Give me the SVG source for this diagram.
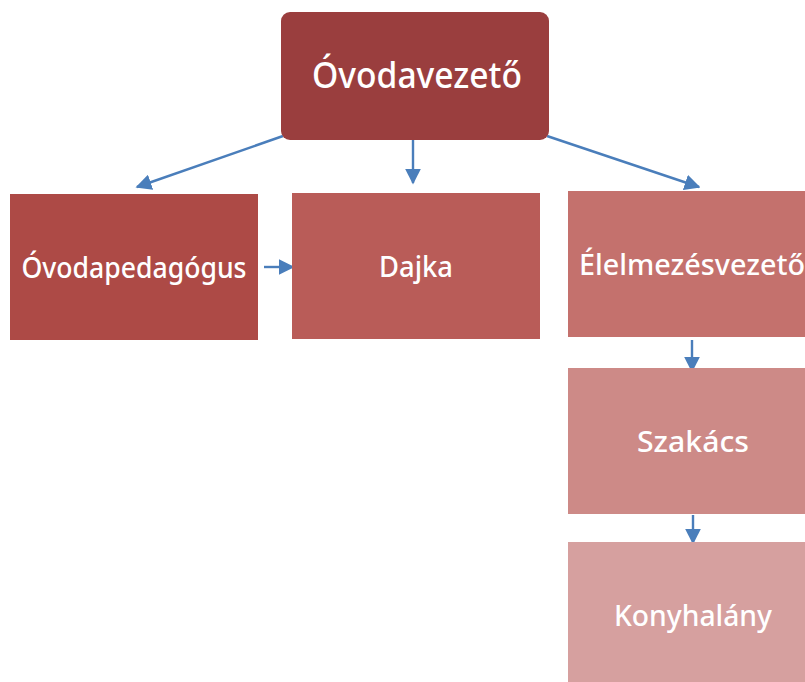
<svg xmlns="http://www.w3.org/2000/svg" width="805" height="682" viewBox="0 0 805 682">
<defs>
<marker id="a" viewBox="0 0 10 10" refX="9" refY="5" markerWidth="16" markerHeight="16" markerUnits="userSpaceOnUse" orient="auto">
<path d="M0,0 L10,5 L0,10 Z" fill="#4a7ebb"/>
</marker>
<style>
.t{font-family:"Noto Sans","Liberation Sans",sans-serif;font-weight:500;fill:#ffffff;text-anchor:middle;dominant-baseline:central}
.c{stroke:#4a7ebb;stroke-width:2.4;fill:none;marker-end:url(#a)}
</style>
</defs>
<rect width="805" height="682" fill="#ffffff"/>
<g id="connectors">
<line class="c" x1="283" y1="136" x2="137" y2="187"/>
<line class="c" x1="413" y1="140" x2="413" y2="183"/>
<line class="c" x1="547" y1="136" x2="699" y2="187"/>
<line class="c" x1="264" y1="267" x2="293" y2="267"/>
<line class="c" x1="692" y1="340" x2="692" y2="371"/>
<line class="c" x1="693" y1="515" x2="693" y2="543"/>
</g>
<g id="n-ovodavezeto">
<rect x="281" y="12" width="268" height="128" rx="9" fill="#9a3e3e"/>
<text class="t" x="417" y="74" font-size="36" textLength="210" lengthAdjust="spacingAndGlyphs">Óvodavezető</text>
</g>
<g id="n-ovodapedagogus">
<rect x="10" y="194" width="248" height="146" fill="#ad4a46"/>
<text class="t" x="134" y="266" font-size="29" textLength="225" lengthAdjust="spacingAndGlyphs">Óvodapedagógus</text>
</g>
<g id="n-dajka">
<rect x="292" y="193" width="248" height="146" fill="#b95c58"/>
<text class="t" x="416" y="265" font-size="29" textLength="74" lengthAdjust="spacingAndGlyphs">Dajka</text>
</g>
<g id="n-elelmezesvezeto">
<rect x="568" y="191" width="248" height="146" fill="#c4716d"/>
<text class="t" x="692" y="263" font-size="29" textLength="226" lengthAdjust="spacingAndGlyphs">Élelmezésvezető</text>
</g>
<g id="n-szakacs">
<rect x="568" y="368" width="248" height="146" fill="#cd8a87"/>
<text class="t" x="693" y="440" font-size="29" textLength="112" lengthAdjust="spacingAndGlyphs">Szakács</text>
</g>
<g id="n-konyhalany">
<rect x="568" y="542" width="248" height="146" fill="#d6a09f"/>
<text class="t" x="693" y="614" font-size="29" textLength="158" lengthAdjust="spacingAndGlyphs">Konyhalány</text>
</g>
</svg>
